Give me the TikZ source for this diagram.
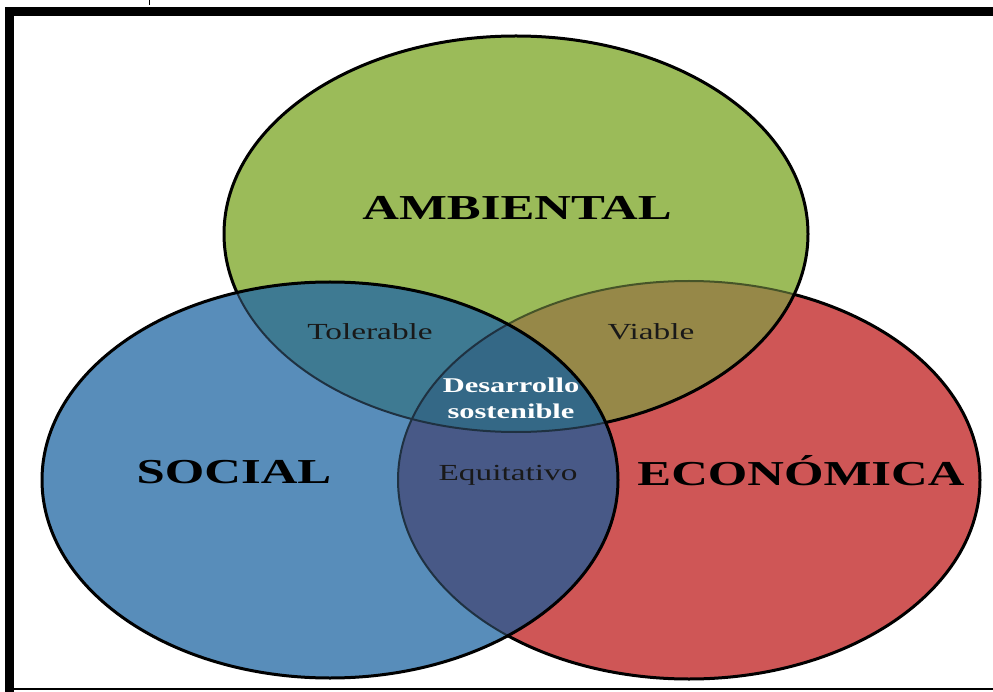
\documentclass[tikz,border=0pt]{standalone}
\usepackage{fontspec}
\setmainfont{Liberation Serif}
\usepackage{xcolor}
\usepackage{tikz}
\usetikzlibrary{positioning}
\definecolor{ambgreen}{RGB}{155,187,89}
\definecolor{socblue}{RGB}{88,141,186}
\definecolor{ecored}{RGB}{207,86,86}
\definecolor{viaolive}{RGB}{150,136,72}
\definecolor{tolteal}{RGB}{62,122,146}
\definecolor{equnavy}{RGB}{72,89,135}
\definecolor{coreteal}{RGB}{52,104,134}
\tikzset{
    ring/.style={draw=black, line width=3pt},
    innerring/.style={line width=2pt},
    biglabel/.style={font=\fontsize{35}{40}\selectfont\bfseries, text=black, xscale=1.45},
    smalllabel/.style={font=\fontsize{23}{26}\selectfont, text=black!90, xscale=1.45},
    corelabel/.style={font=\fontsize{21}{26}\selectfont\bfseries, text=white, xscale=1.45, align=center},
    amb/.style={x radius=292pt, y radius=198pt},
    soc/.style={x radius=288pt, y radius=198pt},
    eco/.style={x radius=291pt, y radius=199pt},
}

\begin{document}
\begin{tikzpicture}[x=1pt, y=-1pt]
        \useasboundingbox (0,0) rectangle (993,692);
        \fill[white] (0,0) rectangle (993,692);
        \coordinate (A) at (516,234);
        \coordinate (S) at (330,480);
        \coordinate (E) at (689,480);
        % economica, then ambiental over it
        \fill[ecored] (E) ellipse [eco];
        \draw[ring] (E) ellipse [eco];
        \fill[ambgreen] (A) ellipse [amb];
        \begin{scope}
            \clip (A) ellipse [amb];
            \fill[viaolive] (E) ellipse [eco];
            \draw[innerring, draw=ambgreen!45!black] (E) ellipse [eco];
        \end{scope}
        \draw[ring] (A) ellipse [amb];
        % social on top
        \fill[socblue] (S) ellipse [soc];
        \begin{scope}
            \clip (S) ellipse [soc];
            \fill[tolteal] (A) ellipse [amb];
            \fill[equnavy] (E) ellipse [eco];
            \begin{scope}
                \clip (A) ellipse [amb];
                \fill[coreteal] (E) ellipse [eco];
            \end{scope}
            \draw[innerring, draw=socblue!35!black] (A) ellipse [amb];
            \draw[innerring, draw=socblue!35!black] (E) ellipse [eco];
        \end{scope}
        \draw[ring] (S) ellipse [soc];
        % labels
        \node[biglabel] (amb) at (517,208) {AMBIENTAL};
        \node[biglabel] (soc) at (234,472) {SOCIAL};
        \node[biglabel] (eco) at (801,471) {ECONÓMICA};
        \node[smalllabel] (tol) at (370,332) {Tolerable};
        \node[smalllabel] (via) at (651,332) {Viable};
        \node[smalllabel] (equ) at (508,475) {Equitativo};
        \node[corelabel] (core) at (511,398) {Desarrollo\\sostenible};
        % frame
        \draw[line width=9pt] (9.5,692) -- (9.5,12) -- (993,12);
        \draw[line width=1.5pt] (5,689) -- (993,689);
        \draw[line width=1pt] (149,0) -- (149,5);
    \end{tikzpicture}
\end{document}
